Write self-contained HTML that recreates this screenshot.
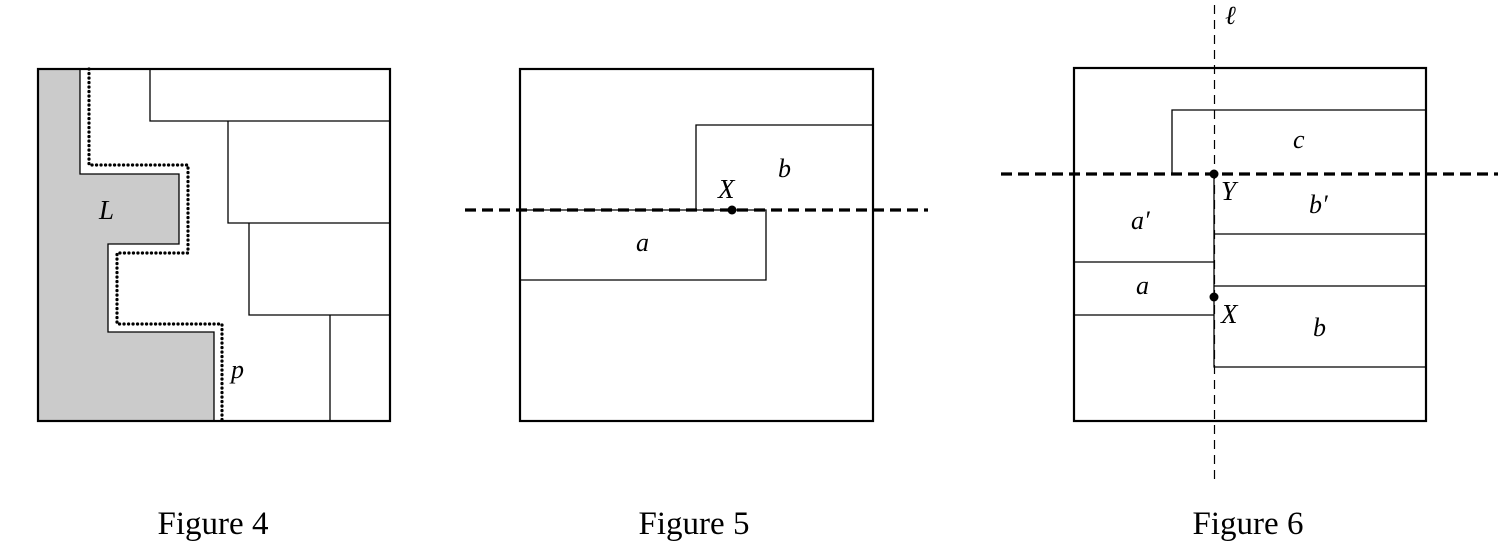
<!DOCTYPE html>
<html><head><meta charset="utf-8"><style>
body{margin:0;background:#fff}
svg{display:block}
text{font-family:"Liberation Serif",serif;fill:#000}
.it{font-style:italic}
</style></head><body>
<svg width="1501" height="546" viewBox="0 0 1501 546" xmlns="http://www.w3.org/2000/svg">
<!-- Figure 4 -->
<path d="M38,69 H80 V174 H179 V244 H108 V332 H214 V421 H38 Z" fill="#cbcbcb" stroke="#000" stroke-width="1.3"/>
<g fill="none" stroke="#000" stroke-width="1.3">
<path d="M150,69 V121 H390"/>
<path d="M228,121 V223 H390"/>
<path d="M249,223 V315 H390"/>
<path d="M330,315 V421"/>
</g>
<path d="M89,69 V165 H188 V253 H117 V324 H222 V421" fill="none" stroke="#000" stroke-width="3.2" stroke-linecap="round" stroke-dasharray="0.1,4.4"/>
<rect x="38" y="69" width="352" height="352" fill="none" stroke="#000" stroke-width="2.2"/>
<text x="99" y="219" font-size="27" class="it">L</text>
<text x="231" y="378" font-size="26" class="it">p</text>
<text x="213" y="534" font-size="33" text-anchor="middle">Figure 4</text>

<!-- Figure 5 -->
<rect x="520" y="69" width="353" height="352" fill="none" stroke="#000" stroke-width="2.2"/>
<g fill="none" stroke="#000" stroke-width="1.3">
<path d="M873,125 H696 V210"/>
<path d="M520,210 H766 V280 H520"/>
</g>
<line x1="465" y1="210" x2="928" y2="210" stroke="#000" stroke-width="3.2" stroke-dasharray="11,6"/>
<circle cx="732" cy="210" r="4.5" fill="#000"/>
<text x="718" y="198" font-size="27" class="it">X</text>
<text x="778" y="177" font-size="26" class="it">b</text>
<text x="636" y="251" font-size="26" class="it">a</text>
<text x="694" y="534" font-size="33" text-anchor="middle">Figure 5</text>

<!-- Figure 6 -->
<line x1="1214.5" y1="5" x2="1214.5" y2="480" stroke="#000" stroke-width="1.2" stroke-dasharray="9,6"/>
<rect x="1074" y="68" width="352" height="353" fill="none" stroke="#000" stroke-width="2.2"/>
<g fill="none" stroke="#000" stroke-width="1.3">
<path d="M1172,174 V110 H1426"/>
<path d="M1214,174 V367 H1426"/>
<path d="M1214,234 H1426"/>
<path d="M1214,286 H1426"/>
<path d="M1074,262 H1214"/>
<path d="M1074,315 H1214"/>
</g>
<line x1="1001" y1="174" x2="1498" y2="174" stroke="#000" stroke-width="3.2" stroke-dasharray="11,6"/>
<circle cx="1214" cy="174" r="4.5" fill="#000"/>
<circle cx="1214" cy="297" r="4.5" fill="#000"/>
<text x="1225" y="24" font-size="26" class="it">ℓ</text>
<text x="1293" y="148" font-size="26" class="it">c</text>
<text x="1221" y="200" font-size="27" class="it">Y</text>
<text x="1309" y="213" font-size="26" class="it">b′</text>
<text x="1131" y="229" font-size="26" class="it">a′</text>
<text x="1136" y="294" font-size="26" class="it">a</text>
<text x="1221" y="323" font-size="27" class="it">X</text>
<text x="1313" y="336" font-size="26" class="it">b</text>
<text x="1248" y="534" font-size="33" text-anchor="middle">Figure 6</text>
</svg>
</body></html>
